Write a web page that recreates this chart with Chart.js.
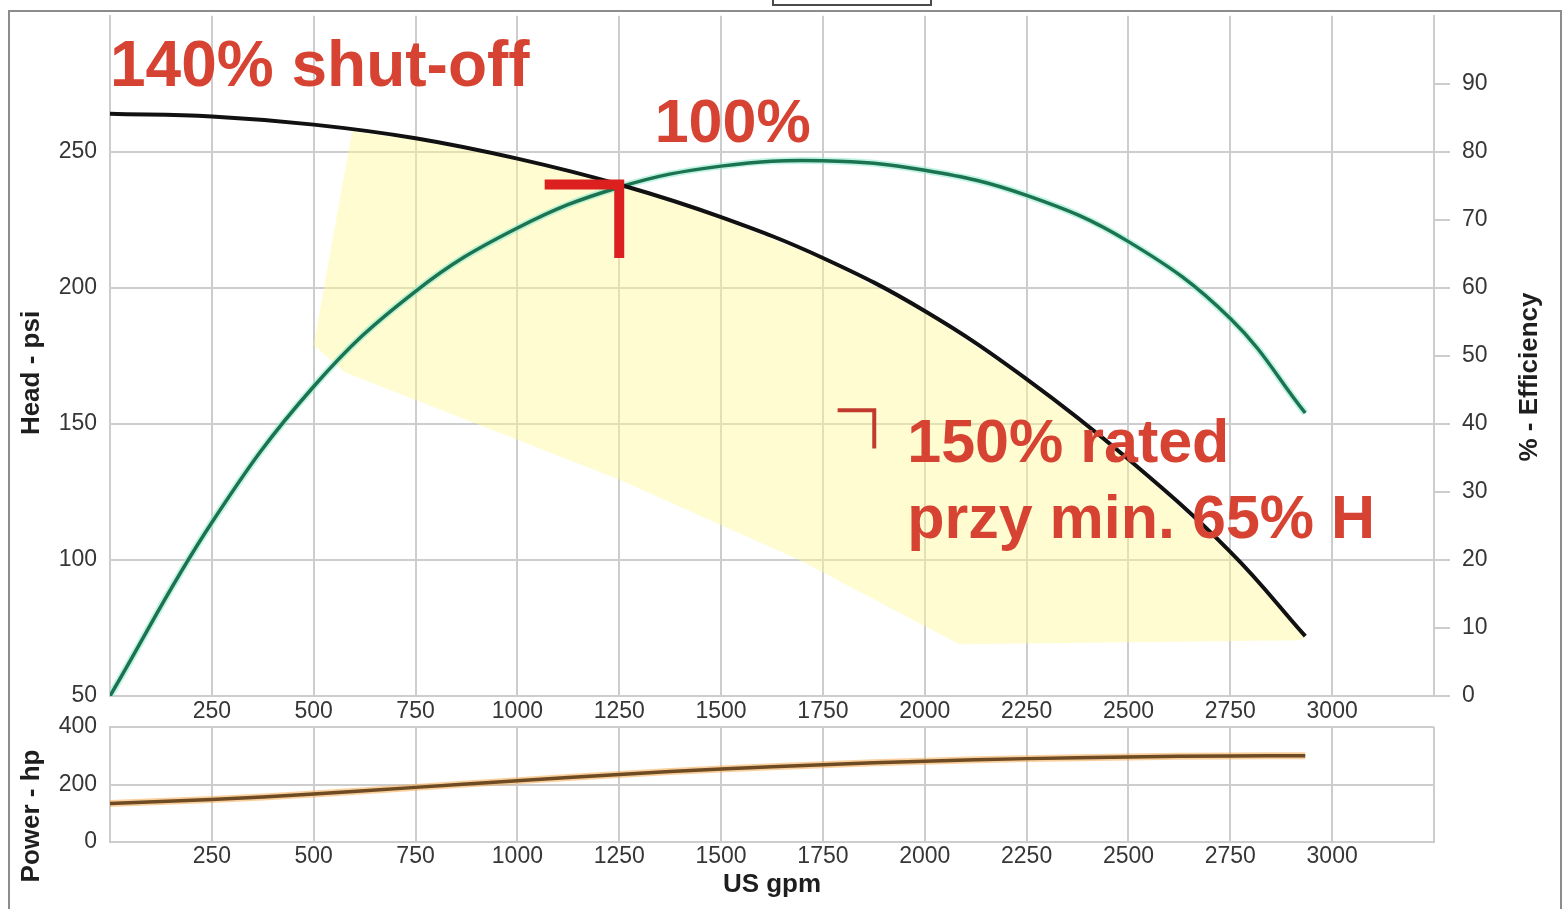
<!DOCTYPE html>
<html lang="en">
<head>
<meta charset="UTF-8">
<title>Pump performance curve</title>
<script src="https://cdn.jsdelivr.net/npm/chart.js"></script>
<style>
  html, body { margin: 0; padding: 0; background: #fff; }
  body { width: 1562px; height: 909px; position: relative; overflow: hidden; }
  #frame { position: absolute; left: 8px; top: 10px; width: 1550px; height: 940px; border: 2px solid #8c8c8c; border-bottom: none; }
  #tab { position: absolute; left: 772px; top: -20px; width: 156px; height: 22px; border: 2px solid #4a4a4a; background: #fff; }
  #headChart { position: absolute; left: 0; top: -11px; }
  #powerChart { position: absolute; left: 0; top: 700px; }
</style>
</head>
<body>
<div id="frame"></div>
<div id="tab"></div>
<canvas id="headChart" width="1562" height="756"></canvas>
<canvas id="powerChart" width="1562" height="209"></canvas>

<script>
// curve data (flow in US gpm)
const flowGpm       = [0, 250, 500, 750, 1000, 1250, 1500, 1750, 2000, 2250, 2500, 2750, 2934];
const headPsi       = [264, 263, 260, 255, 247.5, 238, 226, 211, 191.5, 166.5, 137, 103, 72];
const efficiencyPct = [0, 25.5, 45.5, 59.5, 68.8, 74.8, 77.9, 78.7, 77.3, 73.6, 66.8, 55.5, 41.6];
const powerHp       = [134, 148, 167, 190, 213, 235, 254, 269, 281, 290, 296, 299, 300];

// yellow operating zone outline
const zoneGpm = [594, 750, 1000, 1250, 1500, 1750, 2000, 2250, 2500, 2750, 2934, 2920, 2085, 1692, 1251, 576, 500, 594];
const zonePsi = [257.5, 254.5, 247, 237.5, 225.5, 210.5, 191, 166, 136.5, 102.5, 71.5, 70.5, 69, 100, 129.5, 169, 179, 257.5];

// red markers: rated point (100%) and 150% flow point
const ratedGpm    = [1067, 1250, 1250];
const ratedPsi    = [238, 238, 211];
const overloadGpm = [1786, 1876, 1876];
const overloadPsi = [155, 155, 141];

// annotation texts, anchored at (gpm, psi)
const noteTexts = ['140% shut-off', '100%', '150% rated', 'przy min. 65% H'];
const noteGpm   = [0, 1337, 1957, 1957];
const notePsi   = [274.3, 253.7, 136, 108];
const noteSize  = [64, 61, 61, 61];

const gridColor = '#cdcdcd';
const FONT = '"Liberation Sans", Arial, Helvetica, sans-serif';

Chart.defaults.font.family = FONT;
Chart.defaults.font.size = 23;
Chart.defaults.color = '#363636';

function pts(xs, ys) {
    return xs.map((x, i) => ({ x: x, y: ys[i] }));
}

// draws axis titles (rotated) at fixed spots
const axisTitles = {
    id: 'axisTitles',
    afterDraw(chart, args, opts) {
        const ctx = chart.ctx;
        ctx.save();
        ctx.font = 'bold 26px ' + FONT;
        ctx.fillStyle = '#1e1e1e';
        ctx.textAlign = 'center';
        ctx.textBaseline = 'middle';
        (opts.items || []).forEach(t => {
            ctx.save();
            ctx.translate(t.x, t.y);
            ctx.rotate(t.rot || 0);
            ctx.fillText(t.text, 0, 0);
            ctx.restore();
        });
        ctx.restore();
    }
};

// red notes drawn in data space
const notes = {
    id: 'notes',
    afterDatasetsDraw(chart) {
        if (!chart.options.plugins.notes) return;
        const ctx = chart.ctx;
        const xs = chart.scales.x, ys = chart.scales.y;
        ctx.save();
        ctx.fillStyle = '#d64332';
        ctx.textAlign = 'left';
        ctx.textBaseline = 'alphabetic';
        noteTexts.forEach((t, i) => {
            ctx.font = 'bold ' + noteSize[i] + 'px ' + FONT;
            ctx.fillText(t, xs.getPixelForValue(noteGpm[i]), ys.getPixelForValue(notePsi[i]));
        });
        ctx.restore();
    }
};

const flowTick = v => (v > 0 && v < 3250) ? v : '';

new Chart(document.getElementById('headChart'), {
    type: 'line',
    data: {
        datasets: [
            { data: pts(ratedGpm, ratedPsi), borderColor: '#dc1f1f', borderWidth: 10, tension: 0,
              borderJoinStyle: 'miter', pointRadius: 0, order: 0 },
            { data: pts(overloadGpm, overloadPsi), borderColor: '#c23a2e', borderWidth: 4, tension: 0,
              borderJoinStyle: 'miter', pointRadius: 0, order: 0 },
            { data: pts(flowGpm, headPsi), borderColor: '#111', borderWidth: 4,
              tension: 0.4, pointRadius: 0, order: 1 },
            { data: pts(flowGpm, efficiencyPct), yAxisID: 'y1', borderColor: '#1b7350', borderWidth: 3.5,
              tension: 0.4, pointRadius: 0, order: 2 },
            { data: pts(flowGpm, efficiencyPct), yAxisID: 'y1', borderColor: 'rgba(150,235,210,0.6)', borderWidth: 7,
              tension: 0.4, pointRadius: 0, order: 3 },
            { data: pts(zoneGpm, zonePsi), borderWidth: 0, borderColor: 'rgba(0,0,0,0)',
              backgroundColor: 'rgba(253,249,150,0.45)', fill: 'shape', tension: 0, pointRadius: 0, order: 10 }
        ]
    },
    options: {
        responsive: false,
        animation: false,
        layout: { padding: 0 },
        plugins: {
            legend: { display: false },
            tooltip: { enabled: false },
            notes: {},
            axisTitles: {
                items: [
                    { text: 'Head - psi', x: 32, y: 384, rot: -Math.PI / 2 },
                    { text: '% - Efficiency', x: 1530, y: 388, rot: -Math.PI / 2 }
                ]
            }
        },
        scales: {
            x: {
                type: 'linear', min: 0, max: 3250,
                ticks: { stepSize: 250, padding: 2, maxRotation: 0, autoSkip: false, callback: flowTick },
                grid: { color: gridColor, lineWidth: 2, drawTicks: false },
                border: { color: gridColor, width: 2 },
                afterFit: s => { s.height = 49; }
            },
            y: {
                min: 50, max: 300,
                ticks: { stepSize: 50, padding: 13, callback: v => v < 300 ? v : '' },
                grid: { color: c => c.tick && c.tick.value === 300 ? 'rgba(0,0,0,0)' : gridColor, lineWidth: 2, drawTicks: false },
                border: { color: gridColor, width: 2 },
                afterFit: s => { s.width = 110; }
            },
            y1: {
                position: 'right', min: 0, max: 100,
                ticks: { stepSize: 10, padding: 12, callback: v => v < 100 ? v : '' },
                grid: { drawOnChartArea: false, color: c => c.tick && c.tick.value === 100 ? 'rgba(0,0,0,0)' : gridColor,
                        lineWidth: 2, tickLength: 16 },
                border: { color: gridColor, width: 2 },
                afterFit: s => { s.width = 128; }
            }
        }
    },
    plugins: [axisTitles, notes]
});

new Chart(document.getElementById('powerChart'), {
    type: 'line',
    data: {
        datasets: [
            { data: pts(flowGpm, powerHp), borderColor: '#6e4b22', borderWidth: 3.5,
              tension: 0.4, pointRadius: 0, order: 0 },
            { data: pts(flowGpm, powerHp), borderColor: 'rgba(245,170,80,0.55)', borderWidth: 7,
              tension: 0.4, pointRadius: 0, order: 1 }
        ]
    },
    options: {
        responsive: false,
        animation: false,
        layout: { padding: { top: 27, left: 0, right: 128, bottom: 0 } },
        plugins: {
            legend: { display: false },
            tooltip: { enabled: false },
            axisTitles: {
                items: [
                    { text: 'Power - hp', x: 32, y: 116, rot: -Math.PI / 2 },
                    { text: 'US gpm', x: 772, y: 185, rot: 0 }
                ]
            }
        },
        scales: {
            x: {
                type: 'linear', min: 0, max: 3250,
                ticks: { stepSize: 250, padding: 1, maxRotation: 0, autoSkip: false, callback: flowTick },
                grid: { color: gridColor, lineWidth: 2, drawTicks: false },
                border: { color: gridColor, width: 2 },
                afterFit: s => { s.height = 67; }
            },
            y: {
                min: 0, max: 400,
                ticks: { stepSize: 200, padding: 13 },
                grid: { color: gridColor, lineWidth: 2, drawTicks: false },
                border: { color: gridColor, width: 2 },
                afterFit: s => { s.width = 110; }
            }
        }
    },
    plugins: [axisTitles]
});
</script>
</body>
</html>
